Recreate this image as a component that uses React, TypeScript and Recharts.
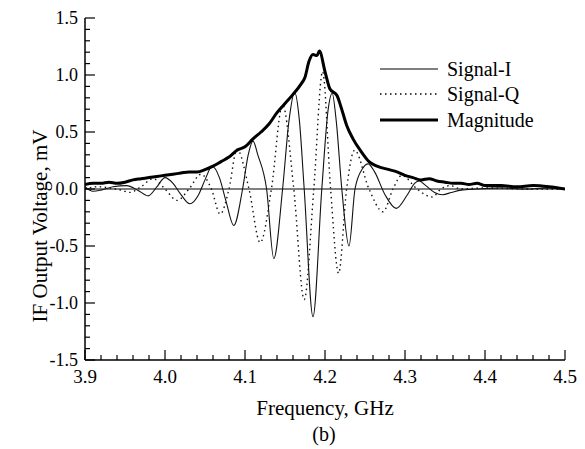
import React from 'react';
import { LineChart, Line, XAxis, YAxis, ReferenceLine, Legend, Label } from 'recharts';

const X_TICKS = [3.9, 3.92, 3.94, 3.96, 3.98, 4.0, 4.02, 4.04, 4.06, 4.08, 4.1, 4.12, 4.14, 4.16, 4.18, 4.2, 4.22, 4.24, 4.26, 4.28, 4.3, 4.32, 4.34, 4.36, 4.38, 4.4, 4.42, 4.44, 4.46, 4.48, 4.5];
const Y_TICKS = [-1.5, -1.4, -1.3, -1.2, -1.1, -1.0, -0.9, -0.8, -0.7, -0.6, -0.5, -0.4, -0.3, -0.2, -0.1, 0, 0.1, 0.2, 0.3, 0.4, 0.5, 0.6, 0.7, 0.8, 0.9, 1.0, 1.1, 1.2, 1.3, 1.4, 1.5];

const I_FREQ = [3.900, 3.910, 3.920, 3.935, 3.952, 3.966, 3.979, 3.990, 4.000, 4.010, 4.020, 4.031, 4.042, 4.050, 4.059, 4.068, 4.076, 4.086, 4.097, 4.104, 4.110, 4.116, 4.127, 4.136, 4.147, 4.155, 4.162, 4.168, 4.174, 4.185, 4.196, 4.204, 4.209, 4.214, 4.221, 4.230, 4.2375, 4.247, 4.254, 4.262, 4.275, 4.289, 4.303, 4.312, 4.318, 4.326, 4.337, 4.347, 4.358, 4.370, 4.390, 4.420, 4.450, 4.480, 4.500];
const I_VOLT = [0.02, -0.02, -0.01, 0.02, 0.03, -0.01, -0.06, 0.02, 0.10, 0.05, -0.05, -0.13, -0.05, 0.08, 0.20, 0.10, -0.10, -0.32, 0.00, 0.30, 0.42, 0.30, 0.00, -0.61, 0.00, 0.60, 0.85, 0.60, 0.00, -1.12, 0.00, 0.70, 0.84, 0.60, 0.00, -0.50, 0.00, 0.18, 0.22, 0.15, -0.05, -0.17, -0.05, 0.05, 0.07, 0.03, -0.03, -0.05, -0.03, -0.01, 0.00, 0.01, 0.00, 0.01, 0.00];

const Q_FREQ = [3.900, 3.915, 3.930, 3.945, 3.956, 3.970, 3.985, 4.000, 4.015, 4.030, 4.045, 4.058, 4.069, 4.080, 4.090, 4.105, 4.119, 4.133, 4.147, 4.161, 4.174, 4.186, 4.197, 4.207, 4.217, 4.227, 4.237, 4.255, 4.2725, 4.285, 4.296, 4.315, 4.334, 4.345, 4.356, 4.370, 4.400, 4.450, 4.500];
const Q_VOLT = [0.00, 0.02, 0.01, -0.01, -0.03, 0.02, 0.09, 0.00, -0.10, 0.00, 0.13, 0.00, -0.22, 0.00, 0.35, 0.00, -0.47, 0.00, 0.74, 0.00, -0.97, 0.00, 1.03, 0.00, -0.74, 0.00, 0.34, 0.00, -0.20, 0.00, 0.12, 0.00, -0.07, 0.00, 0.03, 0.00, 0.01, 0.00, 0.00];

const M_FREQ = [3.90, 3.91, 3.92, 3.93, 3.94, 3.95, 3.96, 3.97, 3.98, 3.99, 4.00, 4.01, 4.02, 4.03, 4.04, 4.05, 4.06, 4.07, 4.08, 4.09, 4.10, 4.11, 4.12, 4.13, 4.14, 4.15, 4.16, 4.17, 4.175, 4.18, 4.185, 4.19, 4.193, 4.20, 4.206, 4.215, 4.22, 4.227, 4.235, 4.245, 4.255, 4.265, 4.28, 4.29, 4.30, 4.31, 4.32, 4.33, 4.34, 4.35, 4.36, 4.37, 4.38, 4.39, 4.40, 4.42, 4.44, 4.46, 4.48, 4.50];
const M_VOLT = [0.04, 0.05, 0.05, 0.06, 0.05, 0.06, 0.08, 0.09, 0.10, 0.11, 0.12, 0.13, 0.14, 0.15, 0.15, 0.17, 0.20, 0.24, 0.28, 0.34, 0.37, 0.44, 0.50, 0.57, 0.67, 0.75, 0.83, 0.92, 0.98, 1.12, 1.18, 1.17, 1.21, 1.03, 0.88, 0.82, 0.72, 0.56, 0.44, 0.33, 0.24, 0.20, 0.17, 0.15, 0.12, 0.10, 0.08, 0.09, 0.07, 0.06, 0.05, 0.05, 0.04, 0.05, 0.03, 0.03, 0.02, 0.03, 0.02, 0.00];

const LEGEND_ITEMS = [
  { name: 'Signal-I', width: 1.1, dash: undefined as string | undefined },
  { name: 'Signal-Q', width: 1.4, dash: '1.5 3.5' },
  { name: 'Magnitude', width: 3, dash: undefined as string | undefined },
];

const sI = I_FREQ.map((f, i) => ({ f, v: I_VOLT[i] }));
const sQ = Q_FREQ.map((f, i) => ({ f, v: Q_VOLT[i] }));
const sM = M_FREQ.map((f, i) => ({ f, v: M_VOLT[i] }));

const FONT = '"Liberation Serif", "Times New Roman", serif';

const isMajorX = (v: number) => Math.round(v * 100) % 10 === 0;
const isMajorY = (v: number) => Math.round(v * 10) % 5 === 0;

const XTickBottom = (props: any) => {
  const { x, y, payload } = props;
  const major = isMajorX(payload.value);
  return (
    <g>
      <line x1={x} x2={x} y1={y} y2={y - (major ? 10 : 5)} stroke="#000" strokeWidth={1.2} />
      {major && (
        <text x={x} y={y + 23} textAnchor="middle" fontFamily={FONT} fontSize={19} fill="#000">
          {payload.value.toFixed(1)}
        </text>
      )}
    </g>
  );
};

const XTickTop = (props: any) => {
  const { x, y, payload } = props;
  const major = isMajorX(payload.value);
  return <line x1={x} x2={x} y1={y} y2={y + (major ? 10 : 5)} stroke="#000" strokeWidth={1.2} />;
};

const YTickLeft = (props: any) => {
  const { x, y, payload } = props;
  const major = isMajorY(payload.value);
  return (
    <g>
      <line x1={x} x2={x + (major ? 10 : 5)} y1={y} y2={y} stroke="#000" strokeWidth={1.2} />
      {major && (
        <text x={x - 7} y={y + 6} textAnchor="end" fontFamily={FONT} fontSize={18} fill="#000">
          {payload.value.toFixed(1)}
        </text>
      )}
    </g>
  );
};

const YTickRight = (props: any) => {
  const { x, y, payload } = props;
  const major = isMajorY(payload.value);
  return <line x1={x} x2={x - (major ? 10 : 5)} y1={y} y2={y} stroke="#000" strokeWidth={1.2} />;
};

const LegendContent = () => (
  <div style={{ fontFamily: FONT, fontSize: 20, color: '#000' }}>
    {LEGEND_ITEMS.map((it) => (
      <div key={it.name} style={{ display: 'flex', alignItems: 'center', height: 25.5 }}>
        <svg width={60} height={10} style={{ marginRight: 7 }}>
          <line x1={0} x2={58} y1={5} y2={5} stroke="#000" strokeWidth={it.width} strokeDasharray={it.dash} />
        </svg>
        <span style={{ lineHeight: '20px' }}>{it.name}</span>
      </div>
    ))}
  </div>
);

export default function App() {
  return (
    <div style={{ position: 'absolute', left: 0, top: 0, width: 585, height: 449, background: '#fff' }}>
      <LineChart width={585} height={449} margin={{ top: 18, right: 20, bottom: 49, left: 0 }}>
        <XAxis
          xAxisId="b"
          type="number"
          dataKey="f"
          domain={[3.9, 4.5]}
          ticks={X_TICKS}
          interval={0}
          allowDataOverflow
          tickLine={false}
          tickSize={0}
          tickMargin={0}
          height={40}
          axisLine={{ stroke: '#000', strokeWidth: 1.5 }}
          tick={XTickBottom}
        >
          <Label
            content={() => (
              <g>
                <text x={325} y={415} textAnchor="middle" fontFamily={FONT} fontSize={21} fill="#000">Frequency, GHz</text>
                <text x={324} y={441} textAnchor="middle" fontFamily={FONT} fontSize={20} fill="#000">(b)</text>
              </g>
            )}
          />
        </XAxis>
        <XAxis
          xAxisId="t"
          orientation="top"
          type="number"
          dataKey="f"
          domain={[3.9, 4.5]}
          ticks={X_TICKS}
          interval={0}
          allowDataOverflow
          tickLine={false}
          tickSize={0}
          tickMargin={0}
          height={0}
          axisLine={{ stroke: '#000', strokeWidth: 1.5 }}
          tick={XTickTop}
        />
        <YAxis
          yAxisId="l"
          type="number"
          domain={[-1.5, 1.5]}
          ticks={Y_TICKS}
          interval={0}
          allowDataOverflow
          tickLine={false}
          tickSize={0}
          tickMargin={0}
          width={85}
          axisLine={{ stroke: '#000', strokeWidth: 1.5 }}
          tick={YTickLeft}
        >
          <Label
            content={() => (
              <text x={47} y={226} transform="rotate(-90 47 226)" textAnchor="middle" fontFamily={FONT} fontSize={21} fill="#000">
                IF Output Voltage, mV
              </text>
            )}
          />
        </YAxis>
        <YAxis
          yAxisId="r"
          orientation="right"
          type="number"
          domain={[-1.5, 1.5]}
          ticks={Y_TICKS}
          interval={0}
          allowDataOverflow
          tickLine={false}
          tickSize={0}
          tickMargin={0}
          width={0}
          axisLine={{ stroke: '#000', strokeWidth: 1.5 }}
          tick={YTickRight}
        />
        <ReferenceLine xAxisId="b" yAxisId="l" y={0} stroke="#000" strokeWidth={1} />
        <Line xAxisId="b" yAxisId="l" data={sQ} dataKey="v" type="monotone" stroke="#111" strokeWidth={1.4} strokeDasharray="1.5 3.5" dot={false} isAnimationActive={false} />
        <Line xAxisId="b" yAxisId="l" data={sI} dataKey="v" type="monotone" stroke="#111" strokeWidth={1.1} dot={false} isAnimationActive={false} />
        <Line xAxisId="b" yAxisId="l" data={sM} dataKey="v" type="monotone" stroke="#000" strokeWidth={3} dot={false} isAnimationActive={false} />
        <Legend
          layout="vertical"
          align="center"
          verticalAlign="middle"
          content={LegendContent}
          wrapperStyle={{ position: 'absolute', left: 380, top: 56, width: 'auto' }}
        />
      </LineChart>
    </div>
  );
}
